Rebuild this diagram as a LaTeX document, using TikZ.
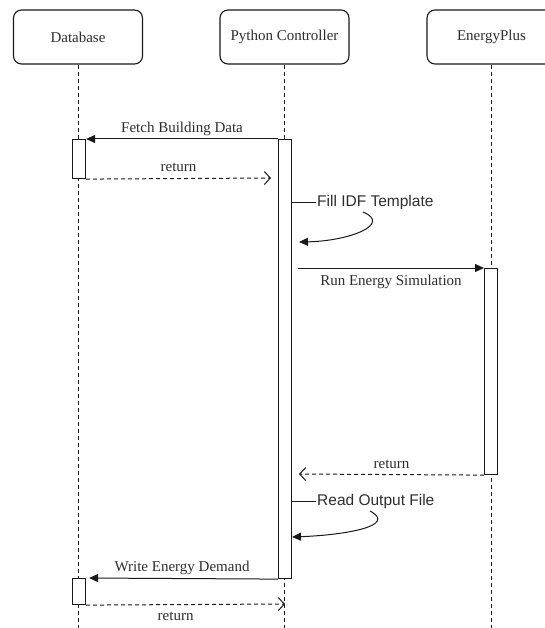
\documentclass[tikz,border=0pt]{standalone}
\usepackage{fontspec}
\setmainfont{Liberation Serif}
\newfontfamily\notefont{Liberation Sans}
\usepackage{xcolor}
\usepackage{tikz}
\usetikzlibrary{arrows.meta, positioning}
\definecolor{seqline}{RGB}{25,25,25}
\definecolor{seqtext}{RGB}{45,45,45}
\tikzset{
  actor/.style={rectangle, rounded corners=8pt, draw=seqline, line width=1.1pt,
    minimum width=129pt, minimum height=54pt, text=seqtext,
    font=\fontsize{15}{18}\selectfont},
  lifeline/.style={seqline, line width=0.9pt, dash pattern=on 4pt off 3pt},
  actbar/.style={rectangle, draw=seqline, fill=white, line width=1.1pt,
    minimum width=13pt, inner sep=0pt, anchor=north west},
  msg/.style={-{Triangle[length=9pt, width=8pt]}, line width=1pt, color=seqline},
  retmsg/.style={-{Straight Barb[length=6pt, width=13pt]}, line width=1pt,
    color=seqline, dash pattern=on 4pt off 3pt},
  selfmsg/.style={-{Triangle[length=9pt, width=8pt]}, line width=1pt, color=seqline},
  msglabel/.style={text=seqtext, font=\fontsize{15}{18}\selectfont, inner sep=2pt},
  notelabel/.style={text=seqtext, font=\notefont\fontsize{15.5}{18}\selectfont,
    inner sep=1pt, anchor=west},
}
\begin{document}
\begin{tikzpicture}[x=1pt, y=-1pt]
  \useasboundingbox (0,0) rectangle (545,628);

  % participants
  \node[actor] (db) at (78,37)    {Database};
  \node[actor] (pc) at (284.5,37) {Python Controller};
  \node[actor] (ep) at (491.5,37) {EnergyPlus};

  % lifelines
  \draw[lifeline] (db.south) -- ++(0,564);
  \draw[lifeline] (pc.south) -- ++(0,564);
  \draw[lifeline] (ep.south) -- ++(0,564);

  % activation bars
  \node[actbar, minimum height=439pt] (pcbar) at (278,139) {};
  \node[actbar, minimum height=39pt]  (dbbar) at (72,139)  {};
  \node[actbar, minimum height=206pt] (epbar) at (484,268) {};
  \node[actbar, minimum height=26pt]  (dbbar2) at (72,578) {};

  % free ends of messages
  \coordinate (ret1end) at (271,178);
  \coordinate (runstart) at (298,268);
  \coordinate (ret2end) at (299,474);
  \coordinate (ret3end) at (285,604);
  \coordinate (fillnote) at (292,202);
  \coordinate (fillfrom) at (363,212);
  \coordinate (fillto) at (299,242);
  \coordinate (readnote) at (292,501);
  \coordinate (readfrom) at (370,511);
  \coordinate (readto) at (292,537);

  % messages
  \draw[msg] (pcbar.north west) -- (dbbar.north east)
    node[msglabel, midway, above=1pt] {Fetch Building Data};
  \draw[retmsg] (dbbar.south east) -- (ret1end)
    node[msglabel, midway, above=4pt] {return};

  \node[notelabel] (filltxt) at (316,202) {Fill IDF Template};
  \draw[seqline, line width=0.9pt] (fillnote) -- (filltxt.west);
  \draw[selfmsg] (fillfrom) .. controls (392,224) and (350,241) .. (fillto);

  \draw[msg] (runstart) -- (epbar.north west)
    node[msglabel, midway, below=5pt] {Run Energy Simulation};
  \draw[retmsg] (epbar.south west) -- (ret2end)
    node[msglabel, midway, above=3pt] {return};

  \node[notelabel] (readtxt) at (316,501) {Read Output File};
  \draw[seqline, line width=0.9pt] (readnote) -- (readtxt.west);
  \draw[selfmsg] (readfrom) .. controls (398,526) and (345,535) .. (readto);

  \draw[msg, shorten >=3pt] (pcbar.south west) -- (dbbar2.north east)
    node[msglabel, midway, above=1pt] {Write Energy Demand};
  \draw[retmsg] (dbbar2.south east) -- (ret3end)
    node[msglabel, pos=0.45, below=5pt] {return};
\end{tikzpicture}
\end{document}
